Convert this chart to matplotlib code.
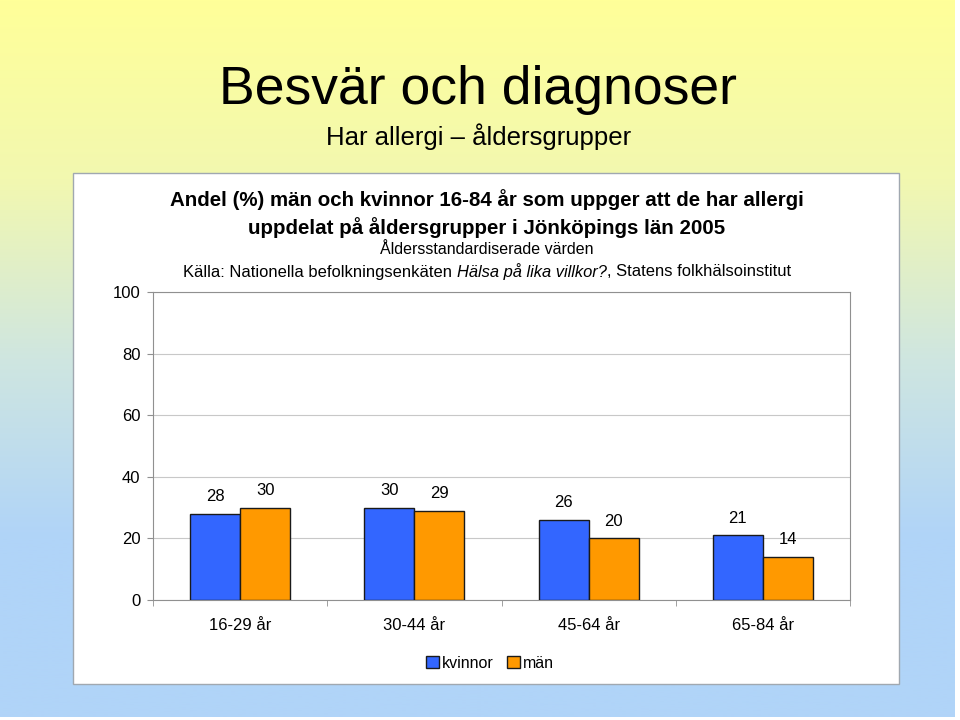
import numpy as np
import matplotlib
matplotlib.use("Agg")
import matplotlib.pyplot as plt
from matplotlib.colors import LinearSegmentedColormap
from matplotlib.patches import Rectangle

plt.rcParams['font.family'] = ['Liberation Sans', 'DejaVu Sans']

# data
age_groups = ["16-29 år", "30-44 år", "45-64 år", "65-84 år"]
kvinnor = [28, 30, 26, 21]
man = [30, 29, 20, 14]
y_ticks = [0, 20, 40, 60, 80, 100]

fig = plt.figure(figsize=(9.6, 7.2), dpi=100)
fig.patch.set_facecolor("white")

# background gradient, yellow on top -> light blue at the bottom
bg = fig.add_axes([0, 1 - 717 / 720, 955 / 960, 717 / 720], zorder=-2)
bg.set_axis_off()
cmap = LinearSegmentedColormap.from_list(
    "bg", ["#ffff99", "#f2f8b0", "#cfe6e0", "#b0d4f8", "#b0d4f8"])
grad = np.linspace(0, 1, 256).reshape(-1, 1)
bg.imshow(grad, aspect="auto", cmap=cmap, extent=[0, 1, 0, 1], origin="upper")

# white chart box
box = Rectangle((73 / 960, 1 - 684 / 720), (899 - 73) / 960, (684 - 173) / 720,
                transform=fig.transFigure, facecolor="white",
                edgecolor="#a0a8b0", linewidth=1.0, zorder=-1)
fig.patches.append(box)

fig.text(0.498, 1 - 90 / 720, "Besvär och diagnoser", fontsize=38.5,
         ha="center", va="center")
fig.text(0.498, 1 - 137 / 720, "Har allergi – åldersgrupper", fontsize=18.5,
         ha="center", va="center")

cx = 487 / 960
fig.text(cx, 1 - 200 / 720,
         "Andel (%) män och kvinnor 16-84 år som uppger att de har allergi",
         fontsize=14.8, fontweight="bold", ha="center", va="center")
fig.text(cx, 1 - 228 / 720, "uppdelat på åldersgrupper i Jönköpings län 2005",
         fontsize=14.8, fontweight="bold", ha="center", va="center")
fig.text(cx, 1 - 250 / 720, "Åldersstandardiserade värden",
         fontsize=11.5, ha="center", va="center")

# source line with italic survey name, laid out piece by piece
src_parts = [("Källa: Nationella befolkningsenkäten ", "normal"),
             ("Hälsa på lika villkor?", "italic"),
             (", Statens folkhälsoinstitut", "normal")]
renderer = fig.canvas.get_renderer()
pieces = []
for txt, style in src_parts:
    t = fig.text(0, 1 - 272 / 720, txt, fontsize=11.9, fontstyle=style,
                 ha="left", va="center")
    pieces.append(t)
widths = [p.get_window_extent(renderer).width for p in pieces]
start = cx * 960 - sum(widths) / 2
for p, wd in zip(pieces, widths):
    p.set_x(start / 960)
    start += wd

ax = fig.add_axes([153 / 960, 1 - 600 / 720, (850 - 153) / 960, (600 - 292) / 720],
                  zorder=2)
ax.set_facecolor("white")

x = np.arange(len(age_groups))
w = 0.287
b1 = ax.bar(x - w / 2, kvinnor, w, color="#3366ff", edgecolor="#1a1a1a",
            linewidth=1.0, label="kvinnor", zorder=3)
b2 = ax.bar(x + w / 2, man, w, color="#ff9900", edgecolor="#1a1a1a",
            linewidth=1.0, label="män", zorder=3)
ax.bar_label(b1, padding=7, fontsize=12)
ax.bar_label(b2, padding=7, fontsize=12)

ax.set_xlim(-0.5, len(age_groups) - 0.5)
ax.set_ylim(0, 100)
ax.set_yticks(y_ticks)
ax.yaxis.grid(True, color="#c8c8c8", linewidth=0.8, zorder=0)
for s in ax.spines.values():
    s.set_color("#909090")
ax.tick_params(axis="y", length=4, color="#909090", labelsize=12, pad=5)

ax.set_xticks(x)
ax.set_xticklabels(age_groups, fontsize=12)
ax.set_xticks(np.arange(-0.5, len(age_groups)), minor=True)
ax.tick_params(axis="x", which="major", length=0, pad=13)
ax.tick_params(axis="x", which="minor", length=4, color="#909090")

fig.legend(handles=[b1, b2], labels=["kvinnor", "män"], loc="center",
           bbox_to_anchor=(490 / 960, 1 - 663 / 720), ncol=2, frameon=False,
           fontsize=11.5, handlelength=0.8, handleheight=0.8, handletextpad=0.2,
           columnspacing=0.8)

fig.savefig("out.png", dpi=100)
